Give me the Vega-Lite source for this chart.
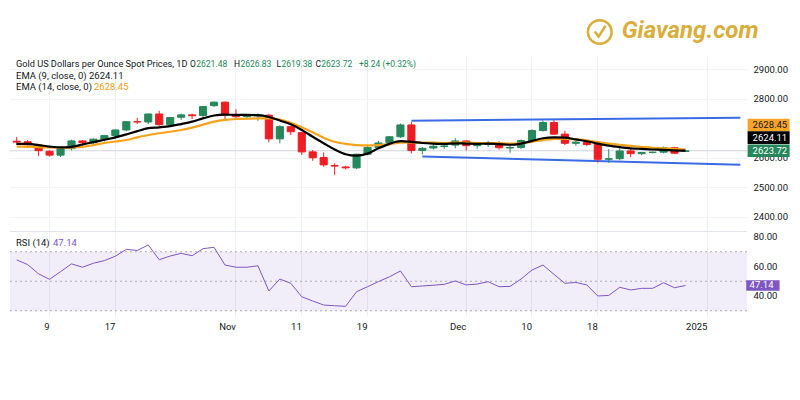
{
"$schema": "https://vega.github.io/schema/vega-lite/v6.json",
"autosize": {"type": "none"},
"width": 737, "height": 261,
"padding": {"left": 10, "top": 55, "right": 53, "bottom": 84},
"background": "#ffffff",
"config": {"view": {"stroke": null}, "font": "Roboto"},
"datasets": {
"ohlc": [
{"date":"2024-10-04","open":2656,"high":2670,"low":2643,"close":2653,"ema9":2647,"ema14":2638,"rsi":64.5},
{"date":"2024-10-07","open":2654,"high":2660,"low":2636,"close":2644,"ema9":2647,"ema14":2637,"rsi":61.3},
{"date":"2024-10-08","open":2643,"high":2646,"low":2606,"close":2624,"ema9":2643,"ema14":2636,"rsi":55},
{"date":"2024-10-09","open":2622,"high":2625,"low":2604,"close":2609,"ema9":2638,"ema14":2635,"rsi":51.3},
{"date":"2024-10-10","open":2609,"high":2633,"low":2603,"close":2631,"ema9":2635,"ema14":2634,"rsi":56.5},
{"date":"2024-10-11","open":2631,"high":2661,"low":2625,"close":2657,"ema9":2637,"ema14":2635,"rsi":61.8},
{"date":"2024-10-14","open":2657,"high":2660,"low":2638,"close":2651,"ema9":2645,"ema14":2637,"rsi":59.5},
{"date":"2024-10-15","open":2651,"high":2665,"low":2640,"close":2663,"ema9":2653,"ema14":2643,"rsi":62.2},
{"date":"2024-10-16","open":2663,"high":2676,"low":2655,"close":2675,"ema9":2661,"ema14":2650,"rsi":64},
{"date":"2024-10-17","open":2675,"high":2696,"low":2664,"close":2694,"ema9":2669,"ema14":2655,"rsi":67},
{"date":"2024-10-18","open":2694,"high":2722,"low":2690,"close":2722,"ema9":2679,"ema14":2660,"rsi":71.6},
{"date":"2024-10-21","open":2722,"high":2735,"low":2714,"close":2721,"ema9":2690,"ema14":2669,"rsi":70.9},
{"date":"2024-10-22","open":2721,"high":2749,"low":2714,"close":2748,"ema9":2700,"ema14":2677,"rsi":74.6},
{"date":"2024-10-23","open":2748,"high":2759,"low":2708,"close":2712,"ema9":2703,"ema14":2683,"rsi":64.6},
{"date":"2024-10-24","open":2712,"high":2738,"low":2710,"close":2736,"ema9":2707,"ema14":2688,"rsi":67.1},
{"date":"2024-10-25","open":2737,"high":2749,"low":2728,"close":2745,"ema9":2714,"ema14":2694,"rsi":68.9},
{"date":"2024-10-28","open":2745,"high":2749,"low":2731,"close":2742,"ema9":2722,"ema14":2702,"rsi":67.3},
{"date":"2024-10-29","open":2743,"high":2775,"low":2736,"close":2773,"ema9":2733,"ema14":2712,"rsi":72.1},
{"date":"2024-10-30","open":2776,"high":2790,"low":2772,"close":2788,"ema9":2743,"ema14":2722,"rsi":73},
{"date":"2024-10-31","open":2788,"high":2790,"low":2730,"close":2745,"ema9":2746,"ema14":2728,"rsi":61},
{"date":"2024-11-01","open":2745,"high":2764,"low":2733,"close":2739,"ema9":2745,"ema14":2731,"rsi":59.5},
{"date":"2024-11-04","open":2739,"high":2746,"low":2730,"close":2741,"ema9":2745,"ema14":2732,"rsi":59.5},
{"date":"2024-11-05","open":2741,"high":2750,"low":2725,"close":2744,"ema9":2744,"ema14":2733,"rsi":60.5},
{"date":"2024-11-06","open":2744,"high":2749,"low":2652,"close":2664,"ema9":2738,"ema14":2733,"rsi":43.4},
{"date":"2024-11-07","open":2664,"high":2710,"low":2649,"close":2705,"ema9":2726,"ema14":2729,"rsi":51.5},
{"date":"2024-11-08","open":2705,"high":2709,"low":2677,"close":2688,"ema9":2713,"ema14":2718,"rsi":48.6},
{"date":"2024-11-11","open":2685,"high":2687,"low":2610,"close":2620,"ema9":2694,"ema14":2703,"rsi":39.5},
{"date":"2024-11-12","open":2620,"high":2626,"low":2590,"close":2600,"ema9":2671,"ema14":2686,"rsi":36.6},
{"date":"2024-11-13","open":2601,"high":2618,"low":2570,"close":2576,"ema9":2649,"ema14":2668,"rsi":33.9},
{"date":"2024-11-14","open":2574,"high":2581,"low":2542,"close":2572,"ema9":2628,"ema14":2654,"rsi":33.4},
{"date":"2024-11-15","open":2569,"high":2573,"low":2561,"close":2566,"ema9":2612,"ema14":2647,"rsi":33},
{"date":"2024-11-18","open":2566,"high":2614,"low":2562,"close":2612,"ema9":2607,"ema14":2643,"rsi":42.9},
{"date":"2024-11-19","open":2612,"high":2639,"low":2609,"close":2635,"ema9":2614,"ema14":2642,"rsi":46.3},
{"date":"2024-11-20","open":2635,"high":2657,"low":2630,"close":2650,"ema9":2632,"ema14":2643,"rsi":49.8},
{"date":"2024-11-21","open":2651,"high":2674,"low":2646,"close":2671,"ema9":2647,"ema14":2646,"rsi":53},
{"date":"2024-11-22","open":2671,"high":2716,"low":2667,"close":2711,"ema9":2656,"ema14":2651,"rsi":57},
{"date":"2024-11-25","open":2711,"high":2721,"low":2615,"close":2625,"ema9":2654,"ema14":2652,"rsi":46.3},
{"date":"2024-11-26","open":2625,"high":2636,"low":2612,"close":2632,"ema9":2650,"ema14":2651,"rsi":46.8},
{"date":"2024-11-27","open":2633,"high":2647,"low":2628,"close":2639,"ema9":2648,"ema14":2651,"rsi":47.3},
{"date":"2024-11-28","open":2638,"high":2645,"low":2630,"close":2640,"ema9":2647,"ema14":2650,"rsi":47.9},
{"date":"2024-11-29","open":2643,"high":2666,"low":2632,"close":2657,"ema9":2649,"ema14":2651,"rsi":50.2},
{"date":"2024-12-02","open":2657,"high":2658,"low":2625,"close":2641,"ema9":2648,"ema14":2651,"rsi":47.5},
{"date":"2024-12-03","open":2641,"high":2652,"low":2631,"close":2644,"ema9":2647,"ema14":2650,"rsi":48.1},
{"date":"2024-12-04","open":2645,"high":2657,"low":2636,"close":2651,"ema9":2648,"ema14":2650,"rsi":49.7},
{"date":"2024-12-05","open":2650,"high":2656,"low":2628,"close":2634,"ema9":2646,"ema14":2649,"rsi":46.3},
{"date":"2024-12-06","open":2633,"high":2643,"low":2617,"close":2635,"ema9":2644,"ema14":2648,"rsi":46.5},
{"date":"2024-12-09","open":2635,"high":2662,"low":2630,"close":2658,"ema9":2648,"ema14":2649,"rsi":51.5},
{"date":"2024-12-10","open":2658,"high":2696,"low":2656,"close":2692,"ema9":2657,"ema14":2654,"rsi":57.6},
{"date":"2024-12-11","open":2692,"high":2726,"low":2689,"close":2719,"ema9":2666,"ema14":2660,"rsi":61},
{"date":"2024-12-12","open":2719,"high":2728,"low":2677,"close":2680,"ema9":2669,"ema14":2664,"rsi":54.7},
{"date":"2024-12-13","open":2680,"high":2691,"low":2643,"close":2649,"ema9":2668,"ema14":2665,"rsi":48.6},
{"date":"2024-12-16","open":2649,"high":2658,"low":2641,"close":2653,"ema9":2662,"ema14":2662,"rsi":49.2},
{"date":"2024-12-17","open":2652,"high":2657,"low":2639,"close":2645,"ema9":2656,"ema14":2659,"rsi":47.5},
{"date":"2024-12-18","open":2645,"high":2650,"low":2584,"close":2595,"ema9":2648,"ema14":2653,"rsi":40},
{"date":"2024-12-19","open":2595,"high":2629,"low":2583,"close":2597,"ema9":2641,"ema14":2648,"rsi":40.4},
{"date":"2024-12-20","open":2597,"high":2632,"low":2592,"close":2623,"ema9":2636,"ema14":2644,"rsi":45.9},
{"date":"2024-12-23","open":2623,"high":2630,"low":2602,"close":2614,"ema9":2632,"ema14":2640,"rsi":44.1},
{"date":"2024-12-24","open":2614,"high":2620,"low":2609,"close":2618,"ema9":2630,"ema14":2637,"rsi":45.2},
{"date":"2024-12-25","open":2618,"high":2621,"low":2615,"close":2619,"ema9":2628,"ema14":2634,"rsi":45.2},
{"date":"2024-12-26","open":2619,"high":2638,"low":2615,"close":2634,"ema9":2627,"ema14":2632,"rsi":49},
{"date":"2024-12-27","open":2634,"high":2637,"low":2614,"close":2615.48,"ema9":2625,"ema14":2630,"rsi":45.6},
{"date":"2024-12-30","open":2621.48,"high":2626.83,"low":2619.38,"close":2623.72,"ema9":2624.11,"ema14":2628.45,"rsi":47.14}
],
"channel": [
{"date":"2024-11-25","line":"upper","price":2725.3},
{"date":"2025-01-06","line":"upper","price":2735.3},
{"date":"2024-11-26","line":"lower","price":2604},
{"date":"2025-01-06","line":"lower","price":2576.3}
]
},
"data": {"name": "ohlc"},
"resolve": {"scale": {"y": "independent"}},
"layer": [
{"data": {"values": [{"lo": 30, "hi": 70}]},
 "mark": {"type": "rect", "color": "#7e57c2", "opacity": 0.1},
 "encoding": {"y": {"field": "hi", "type": "quantitative", "axis": null, "scale": {"domain": [26.44, 203.39], "zero": false, "nice": false}}, "y2": {"field": "lo"}}},
{"data": {"values": [{"level": 70}, {"level": 50}, {"level": 30}]},
 "mark": {"type": "rule", "color": "#a9acb6", "strokeWidth": 1, "strokeDash": [2, 3]},
 "encoding": {"y": {"field": "level", "type": "quantitative", "axis": null, "scale": {"domain": [26.44, 203.39], "zero": false, "nice": false}}}},
{"data": {"values": [{"level": 83.7}]},
 "mark": {"type": "rule", "color": "#e0e3eb", "strokeWidth": 1},
 "encoding": {"y": {"field": "level", "type": "quantitative", "axis": null, "scale": {"domain": [26.44, 203.39], "zero": false, "nice": false}}}},
{"mark": {"type": "line", "color": "#7e57c2", "strokeWidth": 1},
 "encoding": {"x": {"field": "date", "type": "ordinal"},
  "y": {"field": "rsi", "type": "quantitative", "scale": {"domain": [26.44, 203.39], "zero": false, "nice": false},
   "axis": {"title": null, "orient": "right", "values": [40, 60, 80], "format": ".2f", "ticks": false, "domain": false, "grid": false, "labelPadding": 6, "labelFontSize": 9.5, "labelColor": "#131722"}}}},
{"data": {"values": [{"t": "RSI (14)"}]},
 "mark": {"type": "text", "align": "left", "baseline": "middle", "fontSize": 9.5, "color": "#131722", "xOffset": -0.7},
 "encoding": {"x": {"datum": "2024-10-04", "type": "ordinal"}, "y": {"datum": 75.7, "type": "quantitative", "axis": null, "scale": {"domain": [26.44, 203.39], "zero": false, "nice": false}}, "text": {"field": "t"}}},
{"data": {"values": [{"t": "47.14"}]},
 "mark": {"type": "text", "align": "left", "baseline": "middle", "fontSize": 9.5, "color": "#7e57c2", "xOffset": 36.3},
 "encoding": {"x": {"datum": "2024-10-04", "type": "ordinal"}, "y": {"datum": 75.7, "type": "quantitative", "axis": null, "scale": {"domain": [26.44, 203.39], "zero": false, "nice": false}}, "text": {"field": "t"}}},
{"data": {"values": [{"v": 47.14}]},
 "mark": {"type": "point", "shape": "M-1,-0.32H1V0.32H-1Z", "size": 1111, "filled": true, "opacity": 1, "color": "#7e57c2", "strokeWidth": 0, "xOffset": 22.6},
 "encoding": {"x": {"datum": "2025-01-06", "type": "ordinal"}, "y": {"field": "v", "type": "quantitative", "axis": null, "scale": {"domain": [26.44, 203.39], "zero": false, "nice": false}}}},
{"data": {"values": [{"v": 47.14}]},
 "mark": {"type": "text", "align": "left", "baseline": "middle", "fontSize": 9.5, "color": "#ffffff", "xOffset": 9.3},
 "encoding": {"x": {"datum": "2025-01-06", "type": "ordinal"}, "y": {"field": "v", "type": "quantitative", "axis": null, "scale": {"domain": [26.44, 203.39], "zero": false, "nice": false}}, "text": {"field": "v", "format": ".2f"}}},
{"data": {"values": [{"t": "Giavang.com"}]},
 "mark": {"type": "text", "align": "left", "baseline": "alphabetic", "fontSize": 24, "fontWeight": "bold", "fontStyle": "italic", "color": "#d8ae3c", "xOffset": 2},
 "encoding": {"x": {"datum": "2024-12-20", "type": "ordinal"}, "y": {"datum": 3004.7, "type": "quantitative", "axis": null, "scale": {"domain": [2065.5, 2947.3], "zero": false, "nice": false}}, "text": {"field": "t"}}},
{"data": {"values": [{"t": "logo"}]},
 "mark": {"type": "point", "shape": "circle", "filled": false, "stroke": "#d8ae3c", "strokeWidth": 2.5, "size": 560, "opacity": 1, "xOffset": 2},
 "encoding": {"x": {"datum": "2024-12-18", "type": "ordinal"}, "y": {"datum": 3025, "type": "quantitative", "axis": null, "scale": {"domain": [2065.5, 2947.3], "zero": false, "nice": false}}}},
{"data": {"values": [{"t": "logo"}]},
 "mark": {"type": "point", "shape": "M-0.45,-0.05L-0.1,0.4L0.5,-0.55", "filled": false, "stroke": "#d8ae3c", "strokeWidth": 2.5, "size": 520, "opacity": 1, "xOffset": 2},
 "encoding": {"x": {"datum": "2024-12-18", "type": "ordinal"}, "y": {"datum": 3025, "type": "quantitative", "axis": null, "scale": {"domain": [2065.5, 2947.3], "zero": false, "nice": false}}}},
{"data": {"values": [{"p": 2623.72}]},
 "mark": {"type": "rule", "color": "#d1d4dc", "strokeWidth": 1},
 "encoding": {"y": {"field": "p", "type": "quantitative", "axis": null, "scale": {"domain": [2065.5, 2947.3], "zero": false, "nice": false}}}},
{"data": {"name": "channel"},
 "mark": {"type": "line", "color": "#3a6be6", "strokeWidth": 2},
 "encoding": {"x": {"field": "date", "type": "ordinal"}, "y": {"field": "price", "type": "quantitative", "axis": null, "scale": {"domain": [2065.5, 2947.3], "zero": false, "nice": false}}, "detail": {"field": "line"}}},
{"mark": {"type": "rule", "strokeWidth": 1},
 "encoding": {"x": {"field": "date", "type": "ordinal"}, "y": {"field": "low", "type": "quantitative", "axis": null, "scale": {"domain": [2065.5, 2947.3], "zero": false, "nice": false}}, "y2": {"field": "high"},
  "color": {"condition": {"test": "datum.close >= datum.open", "value": "#26875a"}, "value": "#ee1d23"}}},
{"mark": {"type": "bar", "width": {"band": 0.65}, "strokeWidth": 1},
 "encoding": {
  "x": {"field": "date", "type": "ordinal",
   "scale": {"type": "band", "paddingInner": 0, "paddingOuter": 0.11, "domain": ["2024-10-04","2024-10-07","2024-10-08","2024-10-09","2024-10-10","2024-10-11","2024-10-14","2024-10-15","2024-10-16","2024-10-17","2024-10-18","2024-10-21","2024-10-22","2024-10-23","2024-10-24","2024-10-25","2024-10-28","2024-10-29","2024-10-30","2024-10-31","2024-11-01","2024-11-04","2024-11-05","2024-11-06","2024-11-07","2024-11-08","2024-11-11","2024-11-12","2024-11-13","2024-11-14","2024-11-15","2024-11-18","2024-11-19","2024-11-20","2024-11-21","2024-11-22","2024-11-25","2024-11-26","2024-11-27","2024-11-28","2024-11-29","2024-12-02","2024-12-03","2024-12-04","2024-12-05","2024-12-06","2024-12-09","2024-12-10","2024-12-11","2024-12-12","2024-12-13","2024-12-16","2024-12-17","2024-12-18","2024-12-19","2024-12-20","2024-12-23","2024-12-24","2024-12-25","2024-12-26","2024-12-27","2024-12-30","2024-12-31","2025-01-01","2025-01-02","2025-01-03","2025-01-06"]},
   "axis": {"title": null, "labelAngle": 0, "labelOverlap": false, "ticks": false, "domain": false, "labelPadding": 10, "labelFontSize": 9.5, "labelColor": "#131722", "bandPosition": 0.5, "grid": true, "gridColor": "#eceff4",
    "gridOpacity": {"condition": {"test": "indexof(['2024-10-09','2024-10-17','2024-11-01','2024-11-11','2024-11-19','2024-12-02','2024-12-10','2024-12-18','2025-01-01'], datum.value) >= 0", "value": 1}, "value": 0},
    "labelExpr": "datum.value == '2024-10-09' ? '9' : datum.value == '2024-10-17' ? '17' : datum.value == '2024-11-01' ? 'Nov' : datum.value == '2024-11-11' ? '11' : datum.value == '2024-11-19' ? '19' : datum.value == '2024-12-02' ? 'Dec' : datum.value == '2024-12-10' ? '10' : datum.value == '2024-12-18' ? '18' : datum.value == '2025-01-01' ? '2025' : ''"}},
  "y": {"field": "open", "type": "quantitative",
   "scale": {"domain": [2065.5, 2947.3], "zero": false, "nice": false},
   "axis": {"title": null, "orient": "right", "values": [2400, 2500, 2600, 2800, 2900], "format": ".2f", "ticks": false, "domain": false, "labelPadding": 6, "labelFontSize": 9.5, "labelColor": "#131722", "grid": true, "gridColor": "#f1f3f6"}},
  "y2": {"field": "close"},
  "color": {"condition": {"test": "datum.close >= datum.open", "value": "#26875a"}, "value": "#ee1d23"},
  "stroke": {"condition": {"test": "datum.close >= datum.open", "value": "#26875a"}, "value": "#ee1d23"}}},
{"mark": {"type": "line", "color": "#f7a21b", "strokeWidth": 2.2, "interpolate": "monotone"},
 "encoding": {"x": {"field": "date", "type": "ordinal"}, "y": {"field": "ema14", "type": "quantitative", "axis": null, "scale": {"domain": [2065.5, 2947.3], "zero": false, "nice": false}}}},
{"mark": {"type": "line", "color": "#000000", "strokeWidth": 2.2, "interpolate": "monotone"},
 "encoding": {"x": {"field": "date", "type": "ordinal"}, "y": {"field": "ema9", "type": "quantitative", "axis": null, "scale": {"domain": [2065.5, 2947.3], "zero": false, "nice": false}}}},
{"data": {"values": [{"t": "Gold US Dollars per Ounce Spot Prices, 1D"}]},
 "mark": {"type": "text", "align": "left", "baseline": "middle", "fontSize": 9.2, "color": "#131722", "xOffset": -0.7},
 "encoding": {"x": {"datum": "2024-10-04", "type": "ordinal"}, "y": {"datum": 2915.9, "type": "quantitative", "axis": null, "scale": {"domain": [2065.5, 2947.3], "zero": false, "nice": false}}, "text": {"field": "t"}}},
{"data": {"values": [{"t": "O"}]},
 "mark": {"type": "text", "align": "left", "baseline": "middle", "fontSize": 8.5, "color": "#131722", "xOffset": 173.3},
 "encoding": {"x": {"datum": "2024-10-04", "type": "ordinal"}, "y": {"datum": 2915.9, "type": "quantitative", "axis": null, "scale": {"domain": [2065.5, 2947.3], "zero": false, "nice": false}}, "text": {"field": "t"}}},
{"data": {"values": [{"t": "2621.48"}]},
 "mark": {"type": "text", "align": "left", "baseline": "middle", "fontSize": 8.5, "color": "#22875c", "xOffset": 179.6},
 "encoding": {"x": {"datum": "2024-10-04", "type": "ordinal"}, "y": {"datum": 2915.9, "type": "quantitative", "axis": null, "scale": {"domain": [2065.5, 2947.3], "zero": false, "nice": false}}, "text": {"field": "t"}}},
{"data": {"values": [{"t": "H"}]},
 "mark": {"type": "text", "align": "left", "baseline": "middle", "fontSize": 8.5, "color": "#131722", "xOffset": 217.3},
 "encoding": {"x": {"datum": "2024-10-04", "type": "ordinal"}, "y": {"datum": 2915.9, "type": "quantitative", "axis": null, "scale": {"domain": [2065.5, 2947.3], "zero": false, "nice": false}}, "text": {"field": "t"}}},
{"data": {"values": [{"t": "2626.83"}]},
 "mark": {"type": "text", "align": "left", "baseline": "middle", "fontSize": 8.5, "color": "#22875c", "xOffset": 223.8},
 "encoding": {"x": {"datum": "2024-10-04", "type": "ordinal"}, "y": {"datum": 2915.9, "type": "quantitative", "axis": null, "scale": {"domain": [2065.5, 2947.3], "zero": false, "nice": false}}, "text": {"field": "t"}}},
{"data": {"values": [{"t": "L"}]},
 "mark": {"type": "text", "align": "left", "baseline": "middle", "fontSize": 8.5, "color": "#131722", "xOffset": 259.8},
 "encoding": {"x": {"datum": "2024-10-04", "type": "ordinal"}, "y": {"datum": 2915.9, "type": "quantitative", "axis": null, "scale": {"domain": [2065.5, 2947.3], "zero": false, "nice": false}}, "text": {"field": "t"}}},
{"data": {"values": [{"t": "2619.38"}]},
 "mark": {"type": "text", "align": "left", "baseline": "middle", "fontSize": 8.5, "color": "#22875c", "xOffset": 264.8},
 "encoding": {"x": {"datum": "2024-10-04", "type": "ordinal"}, "y": {"datum": 2915.9, "type": "quantitative", "axis": null, "scale": {"domain": [2065.5, 2947.3], "zero": false, "nice": false}}, "text": {"field": "t"}}},
{"data": {"values": [{"t": "C"}]},
 "mark": {"type": "text", "align": "left", "baseline": "middle", "fontSize": 8.5, "color": "#131722", "xOffset": 298.8},
 "encoding": {"x": {"datum": "2024-10-04", "type": "ordinal"}, "y": {"datum": 2915.9, "type": "quantitative", "axis": null, "scale": {"domain": [2065.5, 2947.3], "zero": false, "nice": false}}, "text": {"field": "t"}}},
{"data": {"values": [{"t": "2623.72"}]},
 "mark": {"type": "text", "align": "left", "baseline": "middle", "fontSize": 8.5, "color": "#22875c", "xOffset": 304.6},
 "encoding": {"x": {"datum": "2024-10-04", "type": "ordinal"}, "y": {"datum": 2915.9, "type": "quantitative", "axis": null, "scale": {"domain": [2065.5, 2947.3], "zero": false, "nice": false}}, "text": {"field": "t"}}},
{"data": {"values": [{"t": "+8.24 (+0.32%)"}]},
 "mark": {"type": "text", "align": "left", "baseline": "middle", "fontSize": 8.5, "color": "#22875c", "xOffset": 342.3},
 "encoding": {"x": {"datum": "2024-10-04", "type": "ordinal"}, "y": {"datum": 2915.9, "type": "quantitative", "axis": null, "scale": {"domain": [2065.5, 2947.3], "zero": false, "nice": false}}, "text": {"field": "t"}}},
{"data": {"values": [{"t": "EMA (9, close, 0)"}]},
 "mark": {"type": "text", "align": "left", "baseline": "middle", "fontSize": 9.5, "color": "#131722", "xOffset": -0.7},
 "encoding": {"x": {"datum": "2024-10-04", "type": "ordinal"}, "y": {"datum": 2876.4, "type": "quantitative", "axis": null, "scale": {"domain": [2065.5, 2947.3], "zero": false, "nice": false}}, "text": {"field": "t"}}},
{"data": {"values": [{"t": "2624.11"}]},
 "mark": {"type": "text", "align": "left", "baseline": "middle", "fontSize": 9.5, "color": "#131722", "xOffset": 72.3},
 "encoding": {"x": {"datum": "2024-10-04", "type": "ordinal"}, "y": {"datum": 2876.4, "type": "quantitative", "axis": null, "scale": {"domain": [2065.5, 2947.3], "zero": false, "nice": false}}, "text": {"field": "t"}}},
{"data": {"values": [{"t": "EMA (14, close, 0)"}]},
 "mark": {"type": "text", "align": "left", "baseline": "middle", "fontSize": 9.5, "color": "#131722", "xOffset": -0.7},
 "encoding": {"x": {"datum": "2024-10-04", "type": "ordinal"}, "y": {"datum": 2838.2, "type": "quantitative", "axis": null, "scale": {"domain": [2065.5, 2947.3], "zero": false, "nice": false}}, "text": {"field": "t"}}},
{"data": {"values": [{"t": "2628.45"}]},
 "mark": {"type": "text", "align": "left", "baseline": "middle", "fontSize": 9.5, "color": "#f29d12", "xOffset": 77.3},
 "encoding": {"x": {"datum": "2024-10-04", "type": "ordinal"}, "y": {"datum": 2838.2, "type": "quantitative", "axis": null, "scale": {"domain": [2065.5, 2947.3], "zero": false, "nice": false}}, "text": {"field": "t"}}},
{"data": {"values": [{"v": 2628.45}]},
 "mark": {"type": "point", "shape": "M-1,-0.3H1V0.3H-1Z", "size": 1764, "filled": true, "opacity": 1, "color": "#f7a325", "strokeWidth": 0, "xOffset": 28.3, "yOffset": -24.4},
 "encoding": {"x": {"datum": "2025-01-06", "type": "ordinal"}, "y": {"field": "v", "type": "quantitative", "axis": null, "scale": {"domain": [2065.5, 2947.3], "zero": false, "nice": false}}}},
{"data": {"values": [{"v": 2628.45}]},
 "mark": {"type": "text", "align": "left", "baseline": "middle", "fontSize": 9.5, "color": "#131722", "xOffset": 12.3, "yOffset": -24.4},
 "encoding": {"x": {"datum": "2025-01-06", "type": "ordinal"}, "y": {"field": "v", "type": "quantitative", "axis": null, "scale": {"domain": [2065.5, 2947.3], "zero": false, "nice": false}}, "text": {"field": "v", "format": ".2f"}}},
{"data": {"values": [{"v": 2624.11}]},
 "mark": {"type": "point", "shape": "M-1,-0.3H1V0.3H-1Z", "size": 1764, "filled": true, "opacity": 1, "color": "#000000", "strokeWidth": 0, "xOffset": 28.3, "yOffset": -13},
 "encoding": {"x": {"datum": "2025-01-06", "type": "ordinal"}, "y": {"field": "v", "type": "quantitative", "axis": null, "scale": {"domain": [2065.5, 2947.3], "zero": false, "nice": false}}}},
{"data": {"values": [{"v": 2624.11}]},
 "mark": {"type": "text", "align": "left", "baseline": "middle", "fontSize": 9.5, "color": "#ffffff", "xOffset": 12.3, "yOffset": -13},
 "encoding": {"x": {"datum": "2025-01-06", "type": "ordinal"}, "y": {"field": "v", "type": "quantitative", "axis": null, "scale": {"domain": [2065.5, 2947.3], "zero": false, "nice": false}}, "text": {"field": "v", "format": ".2f"}}},
{"data": {"values": [{"v": 2623.72}]},
 "mark": {"type": "point", "shape": "M-1,-0.3H1V0.3H-1Z", "size": 1764, "filled": true, "opacity": 1, "color": "#26875a", "strokeWidth": 0, "xOffset": 28.3},
 "encoding": {"x": {"datum": "2025-01-06", "type": "ordinal"}, "y": {"field": "v", "type": "quantitative", "axis": null, "scale": {"domain": [2065.5, 2947.3], "zero": false, "nice": false}}}},
{"data": {"values": [{"v": 2623.72}]},
 "mark": {"type": "text", "align": "left", "baseline": "middle", "fontSize": 9.5, "color": "#ffffff", "xOffset": 12.3},
 "encoding": {"x": {"datum": "2025-01-06", "type": "ordinal"}, "y": {"field": "v", "type": "quantitative", "axis": null, "scale": {"domain": [2065.5, 2947.3], "zero": false, "nice": false}}, "text": {"field": "v", "format": ".2f"}}}
]
}
